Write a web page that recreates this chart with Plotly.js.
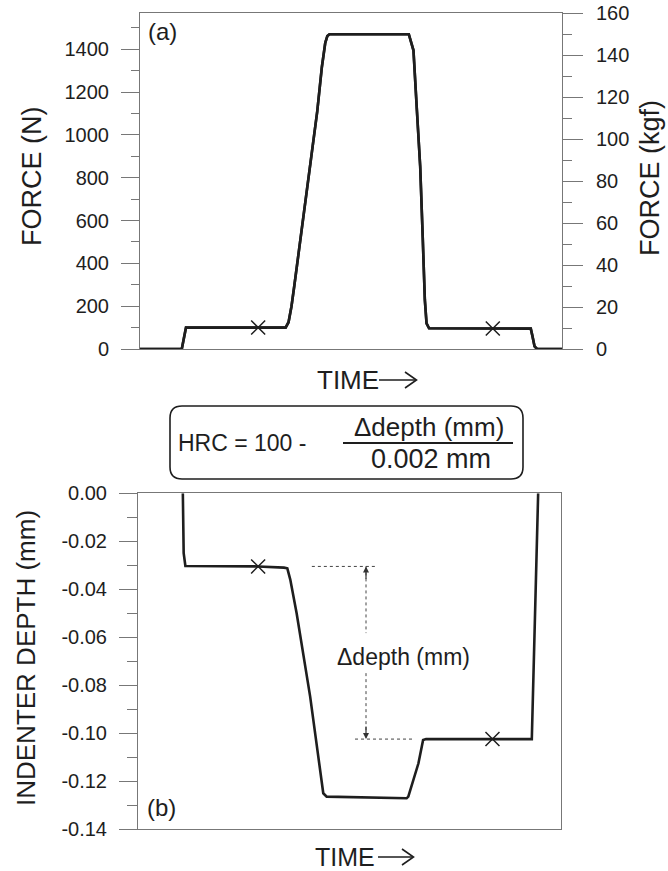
<!DOCTYPE html>
<html><head><meta charset="utf-8">
<script src="https://cdn.plot.ly/plotly-3.0.1.min.js"></script>
<style>html,body{margin:0;padding:0;background:#fff}</style>
</head><body><div id="chart" style="width:668px;height:871px"></div>
<script>
// ---- data ----
const timeForce = [0, 9.9, 10.4, 10.9, 28.0, 34.5, 35.2, 35.9, 36.6, 37.4, 38.3, 39.5, 40.9, 42.0, 43.1, 43.9, 44.4, 44.9, 63.7, 64.2, 64.8, 65.6, 66.4, 67.0, 67.5, 67.9, 68.5, 83.6, 92.6, 93.0, 93.5, 94.1, 100];
const forceN    = [0, 0, 50, 100, 100, 100, 125, 200, 300, 420, 541, 720, 929, 1110, 1317, 1430, 1462, 1470, 1470, 1440, 1395, 1120, 851, 520, 229, 120, 97, 96, 95, 60, 12, 0, 0];
const markTimeForce = [28.0, 83.6];
const markForce     = [100, 96];

const timeDepth = [10.6, 10.8, 11.2, 28.4, 34.5, 35.3, 36.0, 37.5, 40.7, 43.8, 44.6, 52.5, 63.5, 63.9, 66.3, 67.4, 68.1, 83.8, 93.1, 94.6];
const depthMm   = [0, -0.025, -0.0303, -0.0305, -0.0310, -0.0313, -0.036, -0.050, -0.0848, -0.1251, -0.1265, -0.1268, -0.1272, -0.1265, -0.1126, -0.1029, -0.1025, -0.1025, -0.1025, 0];
const markTimeDepth = [28.4, 83.8];
const markDepth     = [-0.0305, -0.1025];

const depthTickVals  = [0, -0.02, -0.04, -0.06, -0.08, -0.10, -0.12, -0.14];
const depthTickText  = ['0.00', '-0.02', '-0.04', '-0.06', '-0.08', '-0.10', '-0.12', '-0.14'];
const depthMinorVals = [-0.01, -0.03, -0.05, -0.07, -0.09, -0.11, -0.13];
const kgfPerN = 1 / 9.80665;
const forceKgf = forceN.map(v => v * kgfPerN);

// ---- layout helpers (pixel -> paper) ----
const W = 668, H = 871;
const X = px => px / W;
const Y = py => 1 - py / H;
const FONT = 'Liberation Sans, Arial, Helvetica, sans-serif';
const INK = '#1e1e1e';
const AX = '#777';

function roundRect(x0, y0, x1, y1, r) {
  const P = (x, y) => X(x).toFixed(5) + ',' + Y(y).toFixed(5);
  return 'M' + P(x0 + r, y0) + ' L' + P(x1 - r, y0) + ' Q' + P(x1, y0) + ' ' + P(x1, y0 + r) +
    ' L' + P(x1, y1 - r) + ' Q' + P(x1, y1) + ' ' + P(x1 - r, y1) +
    ' L' + P(x0 + r, y1) + ' Q' + P(x0, y1) + ' ' + P(x0, y1 - r) +
    ' L' + P(x0, y0 + r) + ' Q' + P(x0, y0) + ' ' + P(x0 + r, y0) + ' Z';
}

const traces = [
  // same force curve in kgf on the right-hand axis (drawn underneath, identical position)
  {x: timeForce, y: forceKgf, xaxis: 'x', yaxis: 'y3', mode: 'lines',
   line: {color: INK, width: 2.6}, hoverinfo: 'skip'},
  {x: timeForce, y: forceN, xaxis: 'x', yaxis: 'y', mode: 'lines',
   line: {color: INK, width: 2.6}, hoverinfo: 'skip'},
  {x: markTimeForce, y: markForce, xaxis: 'x', yaxis: 'y', mode: 'markers',
   marker: {symbol: 'x-thin', size: 14, line: {color: INK, width: 1.5}}, hoverinfo: 'skip'},
  {x: timeDepth, y: depthMm, xaxis: 'x2', yaxis: 'y2', mode: 'lines',
   line: {color: INK, width: 2.6}, hoverinfo: 'skip'},
  {x: markTimeDepth, y: markDepth, xaxis: 'x2', yaxis: 'y2', mode: 'markers',
   marker: {symbol: 'x-thin', size: 14, line: {color: INK, width: 1.5}}, hoverinfo: 'skip'}
];

const tickFont = {family: FONT, size: 20, color: INK};
const baseY = {
  showgrid: false, zeroline: false, showline: true, linecolor: AX, linewidth: 1,
  ticks: 'outside', ticklen: 18, tickwidth: 1, tickcolor: AX, tickfont: tickFont,
  ticklabelstandoff: 8, fixedrange: true
};

const forceMaxN = 1569.06;
const arrowX = 53.9;

const layout = {
  width: W, height: H, showlegend: false,
  margin: {l: 0, r: 0, t: 0, b: 0, pad: 0},
  paper_bgcolor: '#fff', plot_bgcolor: '#fff',
  font: {family: FONT, color: INK},
  xaxis: {domain: [X(140), X(562)], range: [0, 100], anchor: 'y', showline: true, mirror: true,
          linecolor: AX, ticks: '', showticklabels: false, showgrid: false, zeroline: false, fixedrange: true},
  yaxis: Object.assign({}, baseY, {domain: [Y(349), Y(13)], anchor: 'x', range: [0, forceMaxN],
          tick0: 0, dtick: 200, minor: {dtick: 100, ticks: 'outside', ticklen: 8, tickcolor: AX, tickwidth: 1}}),
  yaxis3: Object.assign({}, baseY, {overlaying: 'y', side: 'right', anchor: 'x',
          range: [0, forceMaxN * kgfPerN], tick0: 0, dtick: 20, ticklen: 20, ticklabelstandoff: 9,
          minor: {dtick: 10, ticks: 'outside', ticklen: 9, tickcolor: AX, tickwidth: 1}}),
  xaxis2: {domain: [X(138), X(561)], range: [0, 100], anchor: 'y2', showline: true, mirror: true,
           linecolor: AX, ticks: '', showticklabels: false, showgrid: false, zeroline: false, fixedrange: true},
  yaxis2: Object.assign({}, baseY, {domain: [Y(829), Y(493.3)], anchor: 'x2', range: [-0.14, 0], mirror: true,
           tickmode: 'array', tickvals: depthTickVals, ticktext: depthTickText,
           minor: {tickmode: 'array', tickvals: depthMinorVals, ticks: 'outside', ticklen: 10, tickcolor: AX, tickwidth: 1}}),
  shapes: [
    // formula box
    {type: 'path', xref: 'paper', yref: 'paper', path: roundRect(170, 406, 523, 479, 12),
     line: {color: INK, width: 1.6}},
    // fraction bar
    {type: 'line', xref: 'paper', yref: 'paper', x0: X(343), x1: X(513), y0: Y(443), y1: Y(443),
     line: {color: INK, width: 2}},
    // TIME arrows
    {type: 'line', xref: 'paper', yref: 'paper', x0: X(379), x1: X(416), y0: Y(380), y1: Y(380), line: {color: INK, width: 1.6}},
    {type: 'path', xref: 'paper', yref: 'paper', line: {color: INK, width: 1.6},
     path: 'M' + X(405) + ',' + Y(372) + ' L' + X(416.5) + ',' + Y(380) + ' L' + X(405) + ',' + Y(388)},
    {type: 'line', xref: 'paper', yref: 'paper', x0: X(378), x1: X(413), y0: Y(857), y1: Y(857), line: {color: INK, width: 1.6}},
    {type: 'path', xref: 'paper', yref: 'paper', line: {color: INK, width: 1.6},
     path: 'M' + X(402) + ',' + Y(849) + ' L' + X(413.5) + ',' + Y(857) + ' L' + X(402) + ',' + Y(865)},
    // delta-depth guides
    {type: 'line', xref: 'x2', yref: 'y2', x0: 41.1, x1: 56.5, y0: markDepth[0], y1: markDepth[0],
     line: {color: '#444', width: 1, dash: 'dot'}},
    {type: 'line', xref: 'x2', yref: 'y2', x0: 51.3, x1: 64.8, y0: markDepth[1], y1: markDepth[1],
     line: {color: '#444', width: 1, dash: 'dot'}},
    {type: 'line', xref: 'x2', yref: 'y2', x0: arrowX, x1: arrowX, y0: markDepth[0], y1: -0.0583,
     line: {color: '#444', width: 1, dash: 'dot'}},
    {type: 'line', xref: 'x2', yref: 'y2', x0: arrowX, x1: arrowX, y0: -0.0750, y1: markDepth[1],
     line: {color: '#444', width: 1, dash: 'dot'}}
  ],
  annotations: [
    {xref: 'paper', yref: 'paper', x: X(32), y: Y(177), text: 'FORCE (N)', textangle: -90, showarrow: false,
     xanchor: 'center', yanchor: 'middle', font: {size: 27}},
    {xref: 'paper', yref: 'paper', x: X(650), y: Y(178), text: 'FORCE (kgf)', textangle: -90, showarrow: false,
     xanchor: 'center', yanchor: 'middle', font: {size: 27}},
    {xref: 'paper', yref: 'paper', x: X(26), y: Y(658), text: 'INDENTER DEPTH (mm)', textangle: -90, showarrow: false,
     xanchor: 'center', yanchor: 'middle', font: {size: 26}},
    {xref: 'paper', yref: 'paper', x: X(316), y: Y(380), text: 'TIME', showarrow: false, borderpad: 0,
     xanchor: 'left', yanchor: 'middle', font: {size: 26}},
    {xref: 'paper', yref: 'paper', x: X(314), y: Y(857), text: 'TIME', showarrow: false, borderpad: 0,
     xanchor: 'left', yanchor: 'middle', font: {size: 25}},
    {xref: 'paper', yref: 'paper', x: X(146), y: Y(32), text: '(a)', showarrow: false,
     xanchor: 'left', yanchor: 'middle', font: {size: 24}},
    {xref: 'paper', yref: 'paper', x: X(145), y: Y(807), text: '(b)', showarrow: false,
     xanchor: 'left', yanchor: 'middle', font: {size: 24}},
    {xref: 'paper', yref: 'paper', x: X(176), y: Y(443), text: 'HRC = 100 -', showarrow: false,
     xanchor: 'left', yanchor: 'middle', font: {size: 23}},
    {xref: 'paper', yref: 'paper', x: X(429), y: Y(427), text: 'Δdepth (mm)', showarrow: false,
     xanchor: 'center', yanchor: 'middle', font: {size: 26}},
    {xref: 'paper', yref: 'paper', x: X(431), y: Y(459), text: '0.002 mm', showarrow: false,
     xanchor: 'center', yanchor: 'middle', font: {size: 27}},
    {xref: 'paper', yref: 'paper', x: X(403), y: Y(657), text: 'Δdepth (mm)', showarrow: false,
     xanchor: 'center', yanchor: 'middle', font: {size: 23}},
    // arrowheads of the delta-depth dimension
    {xref: 'x2', yref: 'y2', x: arrowX, y: markDepth[0], ax: 0, ay: 14, text: '', showarrow: true,
     arrowhead: 2, arrowsize: 1, arrowwidth: 1.2, arrowcolor: '#333', standoff: 0},
    {xref: 'x2', yref: 'y2', x: arrowX, y: markDepth[1], ax: 0, ay: -14, text: '', showarrow: true,
     arrowhead: 2, arrowsize: 1, arrowwidth: 1.2, arrowcolor: '#333', standoff: 0}
  ]
};

Plotly.newPlot('chart', traces, layout, {staticPlot: true, displayModeBar: false});
</script>
</body></html>
